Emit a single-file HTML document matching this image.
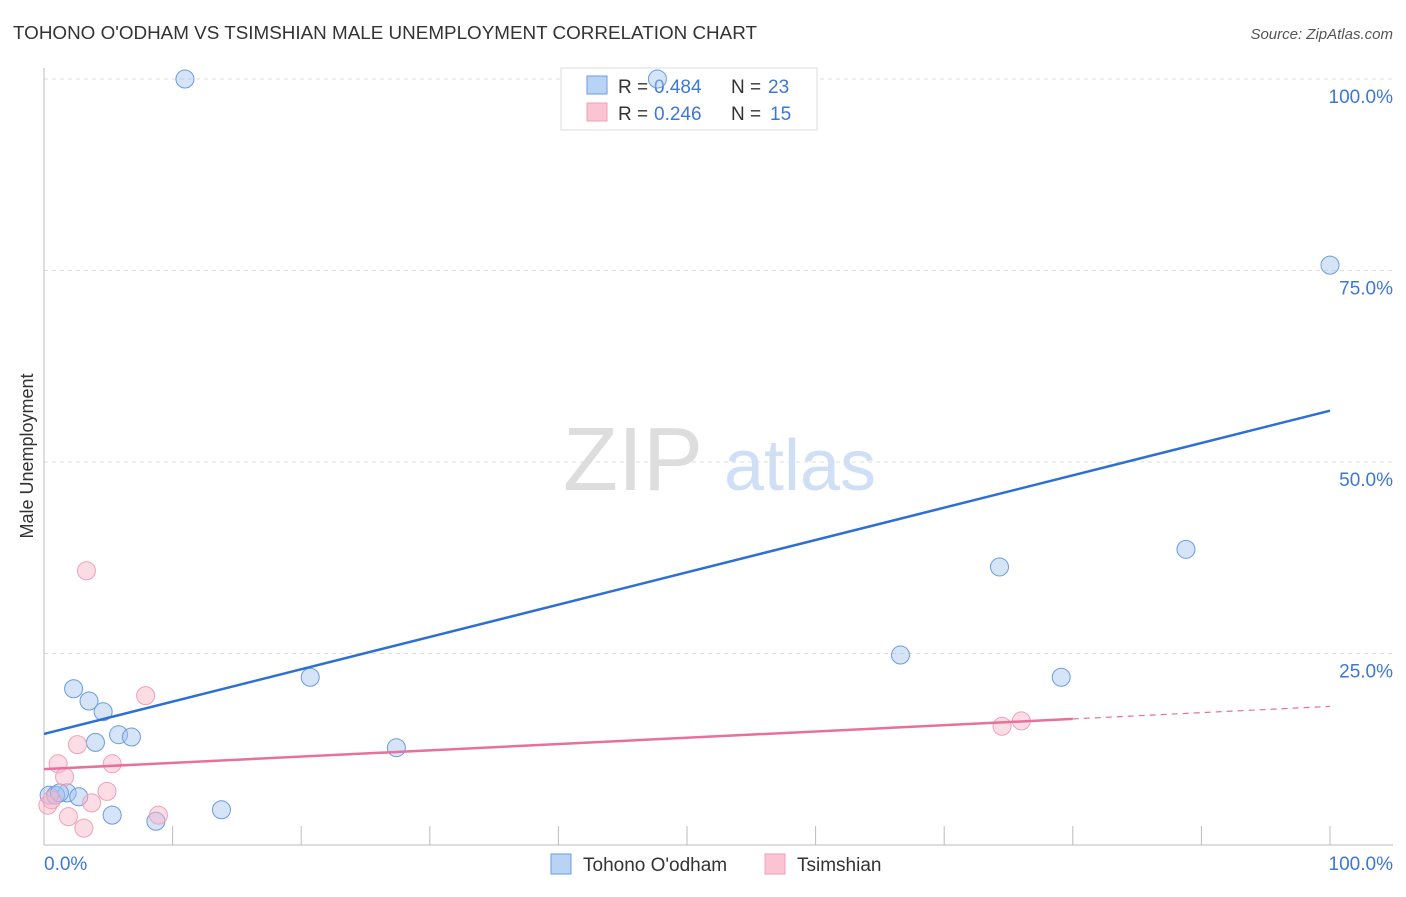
<!DOCTYPE html>
<html><head><meta charset="utf-8"><style>
body{margin:0;background:#fff;font-family:"Liberation Sans",sans-serif}
svg text{font-family:"Liberation Sans",sans-serif}
</style></head><body>
<svg id="c" width="1406" height="892">
<text x="13" y="39" font-size="18" fill="#333" textLength="744" lengthAdjust="spacingAndGlyphs">TOHONO O'ODHAM VS TSIMSHIAN MALE UNEMPLOYMENT CORRELATION CHART</text>
<text x="1393" y="39" font-size="15" fill="#555" font-style="italic" text-anchor="end">Source: ZipAtlas.com</text>
<text x="33" y="456" font-size="18" fill="#333" text-anchor="middle" transform="rotate(-90 33 456)">Male Unemployment</text>
<text x="633" y="490" font-size="90" fill="#ddd" font-family="Liberation Serif" text-anchor="middle">ZIP</text>
<text x="800" y="490" font-size="72" fill="#cfdff5" text-anchor="middle">atlas</text>
<g id="grid"></g><g id="axes"></g>
<g>
<rect x="561" y="68" width="256" height="62" fill="#fff" stroke="#ddd"/>
<rect x="587" y="76" width="20" height="18" fill="#b9d3f5" stroke="#6a9be0"/>
<text x="618" y="93" font-size="19" fill="#333">R =</text><text x="654" y="93" font-size="19" fill="#3b78d8">0.484</text>
<text x="731" y="93" font-size="19" fill="#333">N =</text><text x="768" y="93" font-size="19" fill="#3b78d8">23</text>
<rect x="587" y="103" width="20" height="18" fill="#fac4d3" stroke="#f0a0b8"/>
<text x="618" y="120" font-size="19" fill="#333">R =</text><text x="654" y="120" font-size="19" fill="#3b78d8">0.246</text>
<text x="731" y="120" font-size="19" fill="#333">N =</text><text x="770" y="120" font-size="19" fill="#3b78d8">15</text>
</g>
<g id="marks"></g>
<g>
<rect x="551" y="854" width="20" height="20" fill="#b9d3f5" stroke="#6a9be0"/>
<text x="583" y="871" font-size="19" fill="#333">Tohono O'odham</text>
<rect x="765" y="854" width="20" height="20" fill="#fac4d3" stroke="#f0a0b8"/>
<text x="797" y="871" font-size="19" fill="#333">Tsimshian</text>
</g>
</svg>
<script>
const yTicks=[25,50,75,100];
const yTickLabels=["25.0%","50.0%","75.0%","100.0%"];
const xTicks=[10,20,30,40,50,60,70,80,90,100];
const blueX=[10.96,47.7,100,88.8,74.3,66.6,79.1,20.7,27.4,2.3,3.5,4.6,4.0,5.8,6.8,1.8,2.7,5.3,8.7,13.8,0.4,0.9,1.2];
const blueY=[100,100,75.7,38.6,36.3,24.8,21.9,21.9,12.7,20.4,18.8,17.4,13.4,14.4,14.1,6.8,6.3,3.9,3.1,4.6,6.5,6.5,6.8];
const pinkX=[3.3,7.9,2.6,1.1,5.3,1.6,4.9,3.7,1.9,3.1,8.9,74.5,76.0,0.3,0.6];
const pinkY=[35.8,19.5,13.1,10.6,10.6,8.9,7.0,5.5,3.7,2.2,3.9,15.5,16.2,5.2,5.9];
const blueTrend=[14.5,56.7];
const pinkTrend=[9.9,18.1];
const pinkSolidEnd=80;
const X=v=>44+v*12.86, Y=v=>845-v*7.66;
const NS="http://www.w3.org/2000/svg";
function mk(p,t,a){const e=document.createElementNS(NS,t);for(const k in a)e.setAttribute(k,a[k]);p.appendChild(e);return e;}
const grid=document.getElementById('grid'),axes=document.getElementById('axes'),marks=document.getElementById('marks');
yTicks.forEach((v,i)=>{
 const l=mk(grid,'line',{x1:44,x2:1393,y1:Y(v),y2:Y(v),stroke:'#ddd','stroke-dasharray':'4,4'});
 
 
 const t=mk(grid,'text',{x:1393,y:Y(v)+24,'font-size':19,fill:'#3b78d8','text-anchor':'end'});
 t.textContent=yTickLabels[i];
 
 
});
mk(axes,'line',{x1:44,x2:44,y1:68,y2:845,stroke:'#bbb'});
mk(axes,'line',{x1:44,x2:1393,y1:845,y2:845,stroke:'#bbb'});
xTicks.forEach(v=>{const t=mk(axes,'line',{x1:X(v),x2:X(v),y1:826,y2:845,stroke:'#bbb'});
 
 });
[[0,'start',44,'0.0%'],[100,'end',1393,'100.0%']].forEach(d=>{const t=mk(axes,'text',{x:d[2],y:870,'font-size':19,fill:'#3b78d8','text-anchor':d[1]});t.textContent=d[3];
 
 });
blueX.forEach((x,i)=>{const c=mk(marks,'circle',{cx:X(x),cy:Y(blueY[i]),r:9,fill:'rgba(164,196,240,0.45)',stroke:'#6a9be0','stroke-width':1});
 
 });
pinkX.forEach((x,i)=>{const c=mk(marks,'circle',{cx:X(x),cy:Y(pinkY[i]),r:9,fill:'rgba(248,180,200,0.45)',stroke:'#f0a0b8','stroke-width':1});
 
 });
const bl=mk(marks,'line',{x1:X(0),y1:Y(blueTrend[0]),x2:X(100),y2:Y(blueTrend[1]),stroke:'#2c6fd6','stroke-width':2.5});


const pm=pinkTrend[0]+(pinkTrend[1]-pinkTrend[0])*pinkSolidEnd/100;
const pl=mk(marks,'line',{x1:X(0),y1:Y(pinkTrend[0]),x2:X(pinkSolidEnd),y2:Y(pm),stroke:'#e8709a','stroke-width':2.5});


const pd=mk(marks,'line',{x1:X(pinkSolidEnd),y1:Y(pm),x2:X(100),y2:Y(pinkTrend[1]),stroke:'#e8709a','stroke-width':1.2,'stroke-dasharray':'6,5'});


</script>
</body></html>
